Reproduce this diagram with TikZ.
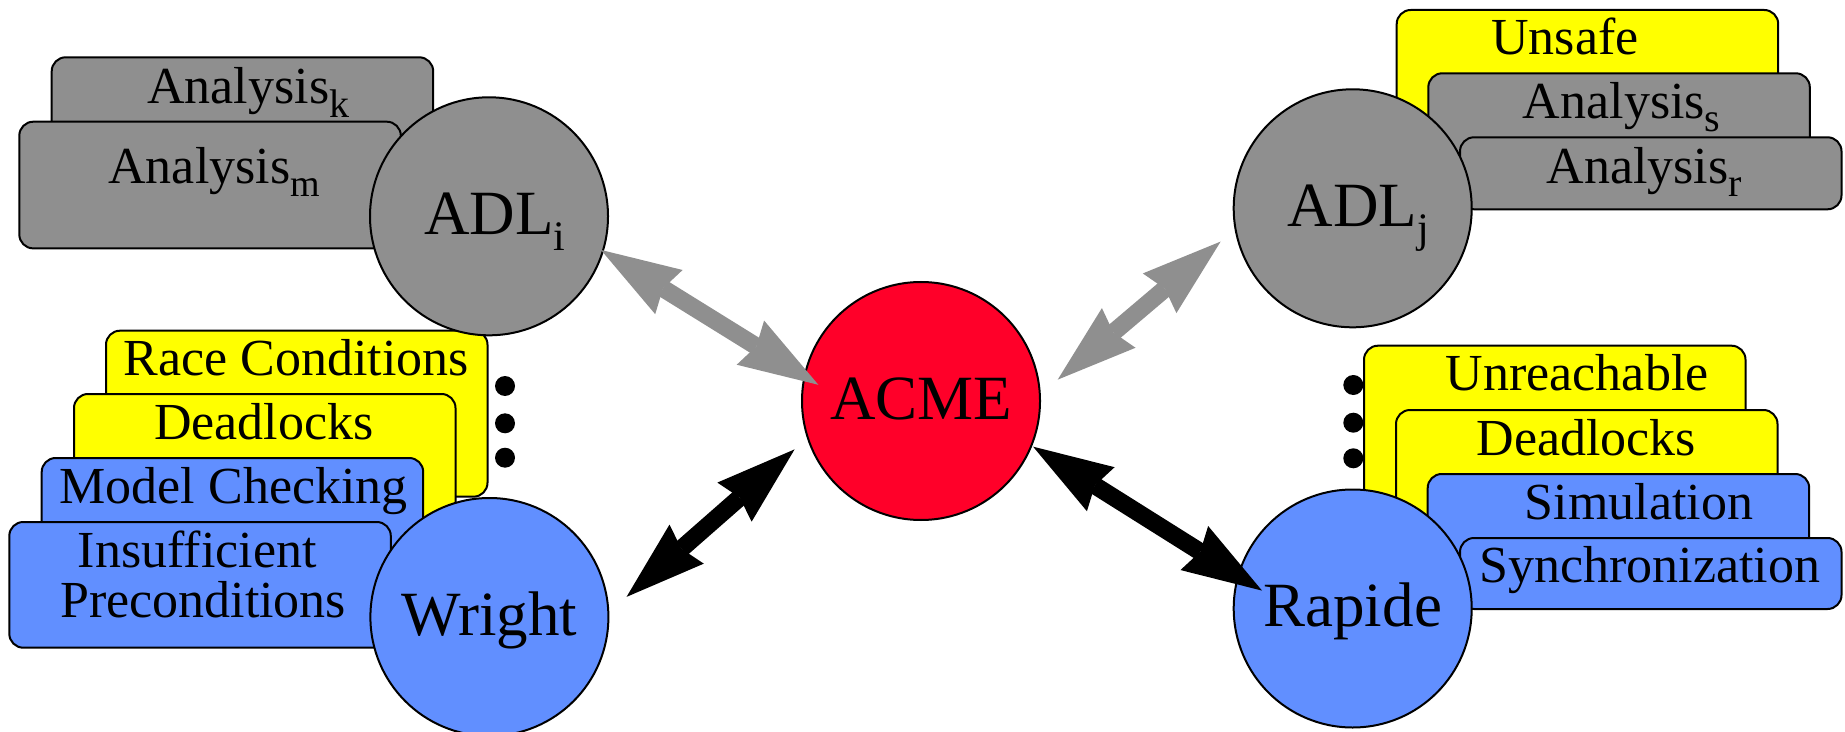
\documentclass[tikz,border=0pt]{standalone}
\usepackage{fontspec}
\setmainfont{Liberation Serif}
\usetikzlibrary{arrows.meta}

\definecolor{boxgray}{RGB}{143,143,143}
\definecolor{noteyellow}{RGB}{255,255,0}
\definecolor{toolblue}{RGB}{97,143,255}
\definecolor{acmered}{RGB}{255,0,41}

% lowered, smaller text used for the index letters
\newcommand\lowsub[3]{\raisebox{#1}{\fontsize{#2}{#2}\selectfont #3}}

\begin{document}
\begin{tikzpicture}[x=0.5pt, y=-0.5pt,
  card/.style={draw, line width=1pt, rounded corners=7pt, anchor=north west,
    inner sep=0pt, outer sep=0pt, minimum width=190.75pt, minimum height=#1},
  graycard/.style={card=#1, fill=boxgray},
  yellowcard/.style={card=#1, fill=noteyellow},
  bluecard/.style={card=#1, fill=toolblue},
  cardtext/.style={anchor=base, inner sep=0pt, font=\fontsize{26}{26}\selectfont},
  adl/.style={circle, draw, line width=1pt, minimum size=119pt, inner sep=0pt,
    outer sep=0pt, font=\fontsize{31.5}{31.5}\selectfont,
    text height=21pt, text depth=3pt},
  tipshape/.tip={Stealth[length=40pt, width=26pt, inset=3.5pt, line width=0pt]},
  biarrow/.style={line width=8.75pt, tipshape-tipshape},
  dot/.style={fill=black}
]
\useasboundingbox (0,0) rectangle (1845,732);

% ---- upper left: analyses of ADL i
\node[graycard=63.35pt] (ak) at (51.7,57.3) {};
\node[cardtext] (akt) at (248.3,104) {Analysis\lowsub{-6.7pt}{20pt}{k}};
\node[graycard=63.35pt] (am) at (19.3,121.7) {};
\node[cardtext] (amt) at (214.2,184) {Analysis\lowsub{-6.3pt}{19pt}{m}};

% ---- lower left: Wright checks
\node[yellowcard=83pt] (race) at (106,330.7) {};
\node[cardtext] (racet) at (296.2,375) {Race Conditions};
\node[yellowcard=83pt] (wdead) at (74,394) {};
\node[cardtext] (wdeadt) at (263.8,439.3) {Deadlocks};
\node[bluecard=83pt] (model) at (41.7,458) {};
\node[cardtext] (modelt) at (233.7,503.3) {Model Checking};
\node[bluecard=62.85pt] (insuf) at (9.3,522) {};
\node[cardtext] (insufa) at (197.2,567.3) {Insufficient};
\node[cardtext] (insufb) at (203.2,617.7) {Preconditions};

% ---- upper right: analyses of ADL j
\node[yellowcard=65pt] (unsafe) at (1396.7,10) {};
\node[cardtext] (unsafet) at (1565,55) {Unsafe};
\node[graycard=55pt] (as) at (1428.3,73.3) {};
\node[cardtext] (ast) at (1621.7,118.3) {Analysis\lowsub{-6.7pt}{20pt}{s}};
\node[graycard=36pt] (ar) at (1460,137.3) {};
\node[cardtext] (art) at (1644.3,183.3) {Analysis\lowsub{-6.7pt}{20pt}{r}};

% ---- lower right: Rapide checks
\node[yellowcard=85pt] (unr) at (1364,345.7) {};
\node[cardtext] (unrt) at (1577.2,390.7) {Unreachable};
\node[yellowcard=65pt] (rdead) at (1396,410) {};
\node[cardtext] (rdeadt) at (1586.2,455) {Deadlocks};
\node[bluecard=55pt] (sim) at (1427.7,474) {};
\node[cardtext] (simt) at (1639,519.3) {Simulation};
\node[bluecard=35.5pt] (sync) at (1460,538) {};
\node[cardtext] (synct) at (1649.7,582.7) {Synchronization};

% ---- ellipsis dots
\fill[dot] (505,386) circle[radius=5pt] (505,423.3) circle[radius=5pt] (505,457.7) circle[radius=5pt];
\fill[dot] (1353.3,385) circle[radius=5pt] (1353.3,422.7) circle[radius=5pt] (1353.3,458.3) circle[radius=5pt];

% ---- languages
\node[adl, fill=boxgray] (adli) at (489,216.3) {ADL\rlap{\lowsub{-8pt}{21pt}{i}}};
\node[adl, fill=boxgray] (adlj) at (1352.7,208.3) {ADL\rlap{\lowsub{-8pt}{21pt}{j}}};
\node[adl, fill=toolblue] (wright) at (489.4,617) {Wright};
\node[adl, fill=toolblue] (rapide) at (1352.7,608.5) {Rapide};
\node[adl, fill=acmered] (acme) at (921,401) {ACME};

% ---- interchange through ACME
\draw[biarrow, boxgray, shorten <=-1.1pt, shorten >=-8.1pt] (adli.-17.4) -- (acme.168.1);
\draw[biarrow, boxgray, shorten <=11.7pt, shorten >=9.75pt] (acme.3.7) -- (adlj.190.1);
\draw[biarrow, black, shorten <=8.8pt, shorten >=12.1pt] (acme.198.7) -- (wright.2.6);
\draw[biarrow, black, shorten <=1pt, shorten >=-14pt] (acme.-22.4) -- (rapide.164.6);
\end{tikzpicture}
\end{document}
